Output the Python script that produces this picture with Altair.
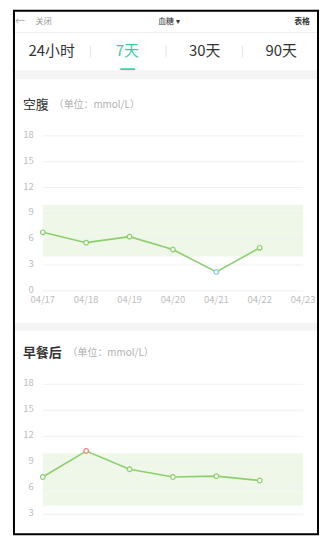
import altair as alt
import pandas as pd

# ---------------- data ----------------
dates = ["04/17", "04/18", "04/19", "04/20", "04/21", "04/22", "04/23"]
fasting = [6.8, 5.6, 6.3, 4.8, 2.2, 5.0]
fasting_status = ["normal", "normal", "normal", "normal", "low", "normal"]
after_breakfast = [7.3, 10.3, 8.2, 7.3, 7.4, 6.9]
after_status = ["normal", "high", "normal", "normal", "normal", "normal"]
ticks_fasting = [0, 3, 6, 9, 12, 15, 18]
ticks_after = [3, 6, 9, 12, 15, 18]
normal_range = [4, 10]
tabs = ["24小时", "7天", "30天", "90天"]
active_tab = "7天"
unit_text = "（单位：mmol/L）"

# ---------------- style ----------------
FONT = "Noto Sans CJK SC"
LINE = "#8bd06c"
BAND = "#eef7e8"
GRID = "#f0f0f0"
LABEL = "#bdbdbd"
TEAL = "#3fc9a0"
W, H = 313, 530

xscale = alt.Scale(domain=[0, len(dates) - 1], range=[35, 297])
status_scale = alt.Scale(domain=["normal", "low", "high"], range=[LINE, "#8cc3ec", "#f07b7b"])
one = alt.Data(values=[{}])


def deco_text(text, x, y, size, color, align="center", weight="normal"):
    return alt.Chart(one).mark_text(
        text=text, font=FONT, fontSize=size, color=color, align=align,
        baseline="middle", fontWeight=weight
    ).encode(x=alt.value(x), y=alt.value(y))


def deco_rect(x, x2, y, y2, fill, stroke=None, sw=0):
    kw = dict(fill=fill)
    if stroke:
        kw.update(stroke=stroke, strokeWidth=sw)
    return alt.Chart(one).mark_rect(**kw).encode(
        x=alt.value(x), x2=alt.value(x2), y=alt.value(y), y2=alt.value(y2))


def panel(values, status, ticks, yrange, show_dates):
    yscale = alt.Scale(domain=[0, 18], range=yrange)
    pts = pd.DataFrame({"idx": list(range(len(values))), "v": values,
                        "status": status, "date": dates[:len(values)]})
    grid = pd.DataFrame({"t": ticks, "x0": 0, "x1": len(dates) - 1,
                         "lab": [str(t) for t in ticks]})
    band = pd.DataFrame({"lo": [normal_range[0]], "hi": [normal_range[1]],
                         "x0": [0], "x1": [len(dates) - 1]})
    X = lambda f: alt.X(f, type="quantitative", scale=xscale, axis=None)
    Y = lambda f: alt.Y(f, type="quantitative", scale=yscale, axis=None)

    layers = [
        alt.Chart(band).mark_rect(color=BAND).encode(x=X("x0"), x2="x1", y=Y("lo"), y2="hi"),
        alt.Chart(grid).mark_rule(color=GRID, strokeWidth=1).encode(x=X("x0"), x2="x1", y=Y("t")),
        alt.Chart(grid).mark_text(font=FONT, fontSize=9.5, color=LABEL, align="right",
                                  baseline="middle", dy=-1).encode(x=alt.value(26), y=Y("t"), text="lab"),
        alt.Chart(pts).mark_line(color=LINE, strokeWidth=1.6).encode(x=X("idx"), y=Y("v")),
        alt.Chart(pts).mark_circle(fill="white", fillOpacity=1, strokeWidth=1.2, size=22, opacity=1).encode(
            x=X("idx"), y=Y("v"),
            stroke=alt.Stroke("status:N", scale=status_scale, legend=None)),
    ]
    if show_dates:
        dd = pd.DataFrame({"idx": list(range(len(dates))), "d": dates, "z": 0})
        layers.append(alt.Chart(dd).mark_text(font=FONT, fontSize=9.5, color=LABEL, dy=9,
                                              baseline="middle").encode(x=X("idx"), y=Y("z"), text="d"))
    return alt.layer(*layers)


p1 = panel(fasting, fasting_status, ticks_fasting, [283, 127], True)
p2 = panel(after_breakfast, after_status, ticks_after, [534, 377], False)

tab_x = [44, 120, 198, 275]
decor = [
    deco_rect(6, 312, 1, 528, "white"),
    # header bar
    deco_text("←", 12, 12, 10, "#aaaaaa"),
    deco_text("关闭", 28, 12, 8, "#999999", align="left"),
    deco_text("血糖 ▾", 162, 12, 8, "#333333"),
    deco_text("表格", 296, 12, 8, "#333333", weight="bold"),
    alt.Chart(one).mark_rule(color="#f0f0f0").encode(x=alt.value(6), x2=alt.value(312), y=alt.value(23)),
]
for t, x in zip(tabs, tab_x):
    decor.append(deco_text(t, x, 42, 15, TEAL if t == active_tab else "#333333"))
for sx in [83, 159, 236]:
    decor.append(alt.Chart(one).mark_rule(color="#e6e6e6").encode(
        x=alt.value(sx), y=alt.value(36), y2=alt.value(48)))
decor += [
    deco_rect(113, 128, 59, 61, TEAL),
    deco_rect(6, 312, 61, 70, "#f4f4f4"),
    deco_rect(6, 312, 315, 323, "#f4f4f4"),
    # panel titles
    deco_text("空腹", 15, 96, 13, "#333333", align="left"),
    deco_text(unit_text, 46, 96, 10, "#b0b0b0", align="left"),
    deco_text("早餐后", 15, 346, 13, "#333333", align="left", weight="bold"),
    deco_text(unit_text, 60, 346, 10, "#b0b0b0", align="left"),
]
frame = deco_rect(6, 312, 1, 528, None, stroke="black", sw=2)

chart = alt.layer(*decor, p1, p2, frame).resolve_scale(y="independent").properties(
    width=W, height=H, padding=0, autosize=alt.AutoSizeParams(type="none")
).configure_view(stroke=None)

chart.save("out.html", embed_options={"renderer": "svg", "actions": False})
